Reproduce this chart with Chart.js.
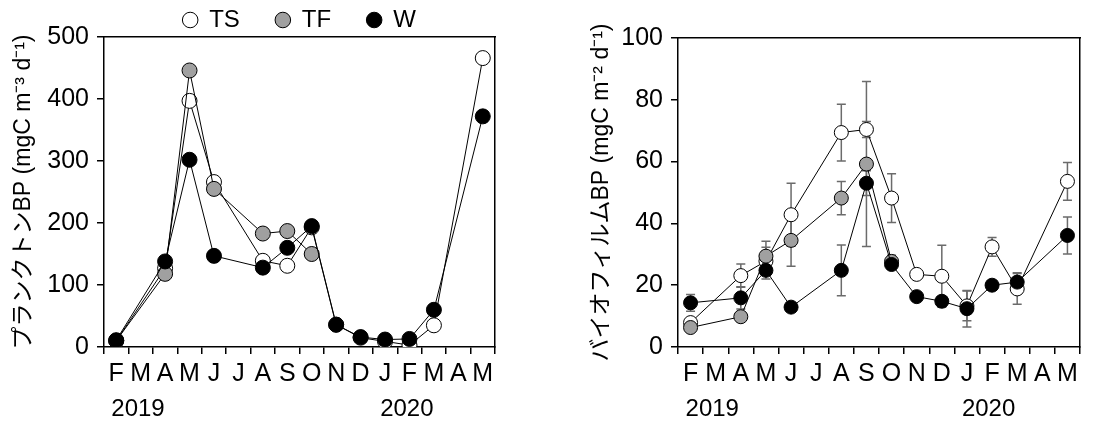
<!DOCTYPE html>
<html>
<head>
<meta charset="utf-8">
<script src="https://cdn.jsdelivr.net/npm/chart.js@4.4.1/dist/chart.umd.min.js"></script>
<style>
  html, body { margin: 0; padding: 0; background: #fff; }
  #wrap { position: relative; width: 1110px; height: 423px; }
  #p1 { position: absolute; left: 0; top: 0; }
  #p2 { position: absolute; left: 560px; top: 0; }
</style>
</head>
<body>
<div id="wrap">
  <canvas id="p1" width="560" height="423"></canvas>
  <canvas id="p2" width="550" height="423"></canvas>
</div>
<script>
// month letters, Feb 2019 .. May 2020
const months = ["F", "M", "A", "M", "J", "J", "A", "S", "O", "N", "D", "J", "F", "M", "A", "M"];
const years = ["2019", "2020"];
const yearStartMonth = [0, 11];
// sampling time in months since 1 Feb 2019
const sampleMonth = [0.5, 2.5, 3.5, 4.5, 6.5, 7.5, 8.5, 9.5, 10.5, 11.5, 12.5, 13.5, 15.5];

// plankton BP (mgC m-3 d-1)
const planktonTS = [10, 127, 397, 266, 139, 131, 193, 36, 15, 9, 3, 35, 466];
const planktonTF = [10, 118, 446, 255, 183, 187, 150, null, null, null, null, null, null];
const planktonW = [11, 138, 302, 147, 128, 160, 195, 36, 16, 12, 13, 60, 372];

// biofilm BP (mgC m-2 d-1) with SE
const biofilmTS = [7.9, 23.1, 27.8, 42.8, 69.4, 70.4, 48.2, 23.5, 22.9, 13.3, 32.4, 18.8, 53.6];
const biofilmTSErr = [1.0, 3.8, 4.5, 10.2, 9.2, 2.6, 7.9, 1.0, 10.0, 4.8, 3.0, 5.0, 6.1];
const biofilmTF = [6.3, 9.8, 29.4, 34.5, 48.2, 59.2, 27.7, null, null, null, null, null, null];
const biofilmTFErr = [0.8, 1.5, 4.8, 8.4, 5.4, 26.7, 2.0, null, null, null, null, null, null];
const biofilmW = [14.3, 15.9, 24.8, 12.9, 24.8, 53.0, 26.7, 16.3, 14.8, 12.4, 20.0, 21.0, 36.1];
const biofilmWErr = [2.7, 3.6, 2.8, 1.2, 8.2, 4.0, 1.5, 1.0, 1.5, 5.9, 1.2, 3.0, 6.0];

Chart.defaults.font.family = "'Liberation Sans', Arial, 'Noto Sans CJK JP', sans-serif";
Chart.defaults.color = "#000";
Chart.defaults.animation = false;

const toPoints = (vals) => vals.map((v, i) => ({ x: sampleMonth[i], y: v }));

// error bars drawn under the markers
const errorBars = {
  id: "errorBars",
  beforeDatasetsDraw(chart) {
    const ctx = chart.ctx;
    const xs = chart.scales.x, ys = chart.scales.y;
    ctx.save();
    ctx.strokeStyle = "#6b6b6b";
    ctx.lineWidth = 1.5;
    chart.data.datasets.forEach((ds) => {
      if (!ds.errors) return;
      ds.data.forEach((p, i) => {
        const e = ds.errors[i];
        if (p.y == null || e == null) return;
        const x = xs.getPixelForValue(p.x);
        const y1 = ys.getPixelForValue(p.y + e);
        const y2 = ys.getPixelForValue(p.y - e);
        ctx.beginPath();
        ctx.moveTo(x, y1); ctx.lineTo(x, y2);
        ctx.moveTo(x - 4.5, y1); ctx.lineTo(x + 4.5, y1);
        ctx.moveTo(x - 4.5, y2); ctx.lineTo(x + 4.5, y2);
        ctx.stroke();
      });
    });
    ctx.restore();
  }
};

function series(label, vals, fill, order, radius, errs) {
  return {
    label: label,
    data: toPoints(vals),
    errors: errs,
    order: order,
    xAxisID: "x",
    yAxisID: "y",
    borderColor: "#000",
    borderWidth: 1,
    backgroundColor: fill,
    pointBackgroundColor: fill,
    pointBorderColor: "#000",
    pointBorderWidth: 1,
    pointRadius: radius,
    pointHoverRadius: radius,
    tension: 0,
    spanGaps: false
  };
}

function scales(yMax, yStep, title, yWidth, rightWidth, topHeight, titlePad, tickSize) {
  return {
    x: {
      type: "linear", position: "bottom", min: 0, max: 16,
      ticks: { stepSize: 1, display: false, autoSkip: false },
      grid: { drawOnChartArea: false, drawTicks: true, tickLength: 7, color: "#000", lineWidth: 1.5 },
      border: { color: "#000", width: 1.5 },
      afterFit: (s) => { s.height = 7; }
    },
    y: {
      type: "linear", position: "left", min: 0, max: yMax,
      ticks: { stepSize: yStep, font: { size: tickSize }, padding: 8, color: "#000" },
      grid: { drawOnChartArea: false, drawTicks: true, tickLength: 7, color: "#000", lineWidth: 1.5 },
      border: { color: "#000", width: 1.5 },
      title: { display: true, text: title, font: { size: 23 }, color: "#000", padding: { top: titlePad, bottom: 0 } },
      afterFit: (s) => { s.width = yWidth; }
    },
    xm: {
      type: "linear", position: "bottom", min: 0, max: 16,
      afterBuildTicks: (s) => { s.ticks = months.map((m, i) => ({ value: i + 0.5 })); },
      ticks: { callback: (v, i) => months[i], font: { size: tickSize }, padding: 5, autoSkip: false, maxRotation: 0, minRotation: 0, color: "#000" },
      grid: { display: false, drawTicks: false },
      border: { display: false },
      afterFit: (s) => { s.height = 35; }
    },
    xy: {
      type: "linear", position: "bottom", min: 0, max: 16,
      afterBuildTicks: (s) => { s.ticks = yearStartMonth.map((m) => ({ value: m + 0.3 })); },
      ticks: { callback: (v, i) => years[i], font: { size: tickSize - 1 }, padding: 6, align: "start", autoSkip: false, maxRotation: 0, minRotation: 0, color: "#000" },
      grid: { display: false, drawTicks: false },
      border: { display: false },
      afterFit: (s) => { s.height = 34; }
    },
    xt: {
      type: "linear", position: "top",
      ticks: { display: false },
      grid: { display: false, drawTicks: false },
      border: { color: "#000", width: 1.5 },
      afterFit: (s) => { s.height = topHeight; }
    },
    yr: {
      type: "linear", position: "right",
      ticks: { display: false },
      grid: { display: false, drawTicks: false },
      border: { color: "#000", width: 1.5 },
      afterFit: (s) => { s.width = rightWidth; }
    }
  };
}

new Chart(document.getElementById("p1"), {
  type: "line",
  data: {
    datasets: [
      series("TS", planktonTS, "#ffffff", 3, 7.5),
      series("TF", planktonTF, "#a0a0a0", 2, 7.5),
      series("W", planktonW, "#000000", 1, 7.5)
    ]
  },
  options: {
    responsive: false,
    layout: { padding: { top: -28, left: 0, right: 0, bottom: 0 } },
    plugins: {
      legend: {
        display: true, position: "top", fullSize: false, reverse: true, maxHeight: 65,
        labels: { usePointStyle: true, pointStyle: "circle", boxWidth: 14, boxHeight: 11, padding: 36, font: { size: 24 }, color: "#000" }
      },
      tooltip: { enabled: false }
    },
    scales: scales(500, 100, "プランクトンBP (mgC m\u207B\u00B3 d\u207B\u00B9)", 104, 65, 0, 10, 25)
  },
  plugins: [errorBars]
});

new Chart(document.getElementById("p2"), {
  type: "line",
  data: {
    datasets: [
      series("TS", biofilmTS, "#ffffff", 3, 7, biofilmTSErr),
      series("TF", biofilmTF, "#a0a0a0", 2, 7, biofilmTFErr),
      series("W", biofilmW, "#000000", 1, 7, biofilmWErr)
    ]
  },
  options: {
    responsive: false,
    layout: { padding: 0 },
    plugins: {
      legend: { display: false },
      tooltip: { enabled: false }
    },
    scales: scales(100, 20, "バイオフィルムBP (mgC m\u207B\u00B2 d\u207B\u00B9)", 118, 30, 38, 28, 25)
  },
  plugins: [errorBars]
});
</script>
</body>
</html>
